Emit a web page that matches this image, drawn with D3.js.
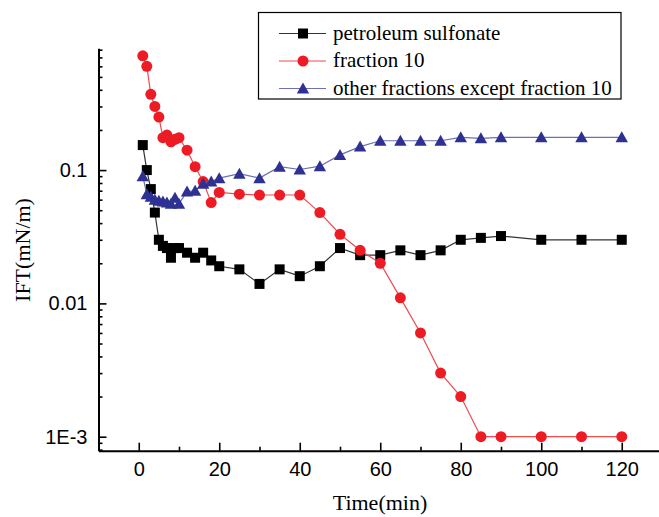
<!DOCTYPE html>
<html>
<head>
<meta charset="utf-8">
<title>IFT vs time</title>
<style>
body { margin: 0; background: #fff; }
.tick text { font-family: "Liberation Sans", Arial, sans-serif; font-size: 20px; fill: #000; }
.axis path, .axis line { stroke: #000; }
.title { font-family: "Liberation Serif", "Times New Roman", serif; font-size: 22px; fill: #000; }
.legendText { font-family: "Liberation Serif", "Times New Roman", serif; font-size: 21px; fill: #000; }
</style>
</head>
<body>
<script src="https://cdn.jsdelivr.net/npm/d3@7/dist/d3.min.js"></script>
<script>

// time points (min), same for all three series
var times = [1, 2, 3, 4, 5, 6, 7, 8, 9, 10, 12, 14, 16, 18, 20, 25, 30, 35, 40, 45, 50, 55, 60, 65, 70, 75, 80, 85, 90, 100, 110, 120];

var sulfonate = [0.154, 0.1, 0.072, 0.048, 0.030, 0.027, 0.026, 0.022, 0.026, 0.026, 0.024, 0.022, 0.024, 0.021, 0.019, 0.018, 0.014, 0.018, 0.016, 0.019, 0.026, 0.023, 0.023, 0.025, 0.023, 0.025, 0.030, 0.031, 0.032, 0.030, 0.030, 0.030];

var fraction10 = [0.72, 0.60, 0.37, 0.30, 0.25, 0.175, 0.183, 0.163, 0.17, 0.175, 0.141, 0.106, 0.082, 0.057, 0.068, 0.066, 0.065, 0.065, 0.065, 0.048, 0.033, 0.025, 0.020, 0.011, 0.006, 0.003, 0.002, 0.001, 0.001, 0.001, 0.001, 0.001];

var otherFractions = [0.09, 0.066, 0.063, 0.060, 0.059, 0.058, 0.057, 0.056, 0.062, 0.056, 0.069, 0.070, 0.079, 0.082, 0.087, 0.094, 0.087, 0.106, 0.101, 0.107, 0.13, 0.15, 0.166, 0.166, 0.166, 0.166, 0.176, 0.173, 0.176, 0.176, 0.176, 0.176];

var seriesNames = ["petroleum sulfonate", "fraction 10", "other fractions except fraction 10"];

// tick values / labels
var xMajor = [0, 20, 40, 60, 80, 100, 120];
var xMinor = [-10, 10, 30, 50, 70, 90, 110, 130];
var yMajor = [0.001, 0.01, 0.1];
var yMajorLabels = ["1E-3", "0.01", "0.1"];
var yMinor = [0.0008, 0.0009, 0.002, 0.003, 0.004, 0.005, 0.006, 0.007, 0.008, 0.009,
              0.02, 0.03, 0.04, 0.05, 0.06, 0.07, 0.08, 0.09,
              0.2, 0.3, 0.4, 0.5, 0.6, 0.7, 0.8];

var W = 659, H = 517;
var plotLeft = 98.5, plotBottom = 450.7, plotTop = 48.3, plotRight = 662;

var svg = d3.select("body").append("svg")
    .attr("width", W)
    .attr("height", H);

var x = d3.scaleLinear()
    .domain([-10, 130])
    .range([plotLeft, plotRight]);

var y = d3.scaleLog()
    .domain([Math.pow(10, -3.105), Math.pow(10, -0.0865)])
    .range([plotBottom, plotTop]);

// axes (ticks point inward)
svg.append("g")
    .attr("class", "axis")
    .attr("transform", "translate(0," + plotBottom + ")")
    .call(d3.axisBottom(x).tickValues(xMajor).tickSizeInner(-8).tickSizeOuter(0).tickPadding(11));
svg.append("g")
    .attr("class", "axis")
    .attr("transform", "translate(0," + plotBottom + ")")
    .call(d3.axisBottom(x).tickValues(xMinor).tickSizeInner(-4).tickSizeOuter(0).tickFormat(""))
    .select(".domain").remove();

svg.append("g")
    .attr("class", "axis")
    .attr("transform", "translate(" + plotLeft + ",0)")
    .call(d3.axisLeft(y).tickValues(yMajor).tickSizeInner(-8).tickSizeOuter(0).tickPadding(11)
      .tickFormat(function(d, i) { return yMajorLabels[i]; }));
svg.append("g")
    .attr("class", "axis")
    .attr("transform", "translate(" + plotLeft + ",0)")
    .call(d3.axisLeft(y).tickValues(yMinor).tickSizeInner(-4).tickSizeOuter(0).tickFormat(""))
    .select(".domain").remove();

svg.selectAll(".axis .domain").style("stroke-width", "2px");
svg.selectAll(".axis .tick line").style("stroke-width", "1.6px");

// axis titles
svg.append("text")
    .attr("class", "title")
    .attr("x", 380)
    .attr("y", 510)
    .style("text-anchor", "middle")
    .text("Time(min)");

svg.append("text")
    .attr("class", "title")
    .attr("transform", "translate(30,250) rotate(-90)")
    .style("text-anchor", "middle")
    .text("IFT(mN/m)");

// series
var series = [
  {name: seriesNames[0], values: sulfonate, line: "#333", fill: "#000", shape: "square"},
  {name: seriesNames[1], values: fraction10, line: "#f04a4f", fill: "#ed1c24", shape: "circle"},
  {name: seriesNames[2], values: otherFractions, line: "#6b6fb5", fill: "#2e3192", shape: "triangle"}
];

function marker(sel, shape, fill) {
  if (shape == "square") {
    sel.append("rect").attr("x", -5).attr("y", -5).attr("width", 10).attr("height", 10).style("fill", fill);
  } else if (shape == "circle") {
    sel.append("circle").attr("r", 5.5).style("fill", fill);
  } else {
    sel.append("path").attr("d", "M0,-6 L6.2,5 L-6.2,5 Z").style("fill", fill);
  }
}

var line = d3.line()
    .x(function(d) { return x(d[0]); })
    .y(function(d) { return y(d[1]); });

series.forEach(function(s) {
  var pts = times.map(function(t, i) { return [t, s.values[i]]; });
  svg.append("path")
    .attr("d", line(pts))
    .style("fill", "none")
    .style("stroke", s.line)
    .style("stroke-width", "1.2px");
  svg.append("g").selectAll("g")
    .data(pts).enter()
    .append("g")
    .attr("transform", function(d) { return "translate(" + x(d[0]) + "," + y(d[1]) + ")"; })
    .each(function() { marker(d3.select(this), s.shape, s.fill); });
});

// legend
var legend = svg.append("g");
legend.append("rect")
    .attr("x", 258.5).attr("y", 12.5)
    .attr("width", 362.5).attr("height", 86.5)
    .style("fill", "#fff")
    .style("stroke", "#000")
    .style("stroke-width", "1.2px");

series.forEach(function(s, i) {
  var ly = 33.5 + i * 27.5;
  legend.append("line")
    .attr("x1", 279).attr("x2", 326)
    .attr("y1", ly).attr("y2", ly)
    .style("stroke", s.line)
    .style("stroke-width", "1.2px");
  var m = legend.append("g").attr("transform", "translate(303," + ly + ")");
  marker(m, s.shape, s.fill);
  legend.append("text")
    .attr("class", "legendText")
    .attr("x", 333)
    .attr("y", ly + 6)
    .text(s.name);
});

</script>
</body>
</html>
